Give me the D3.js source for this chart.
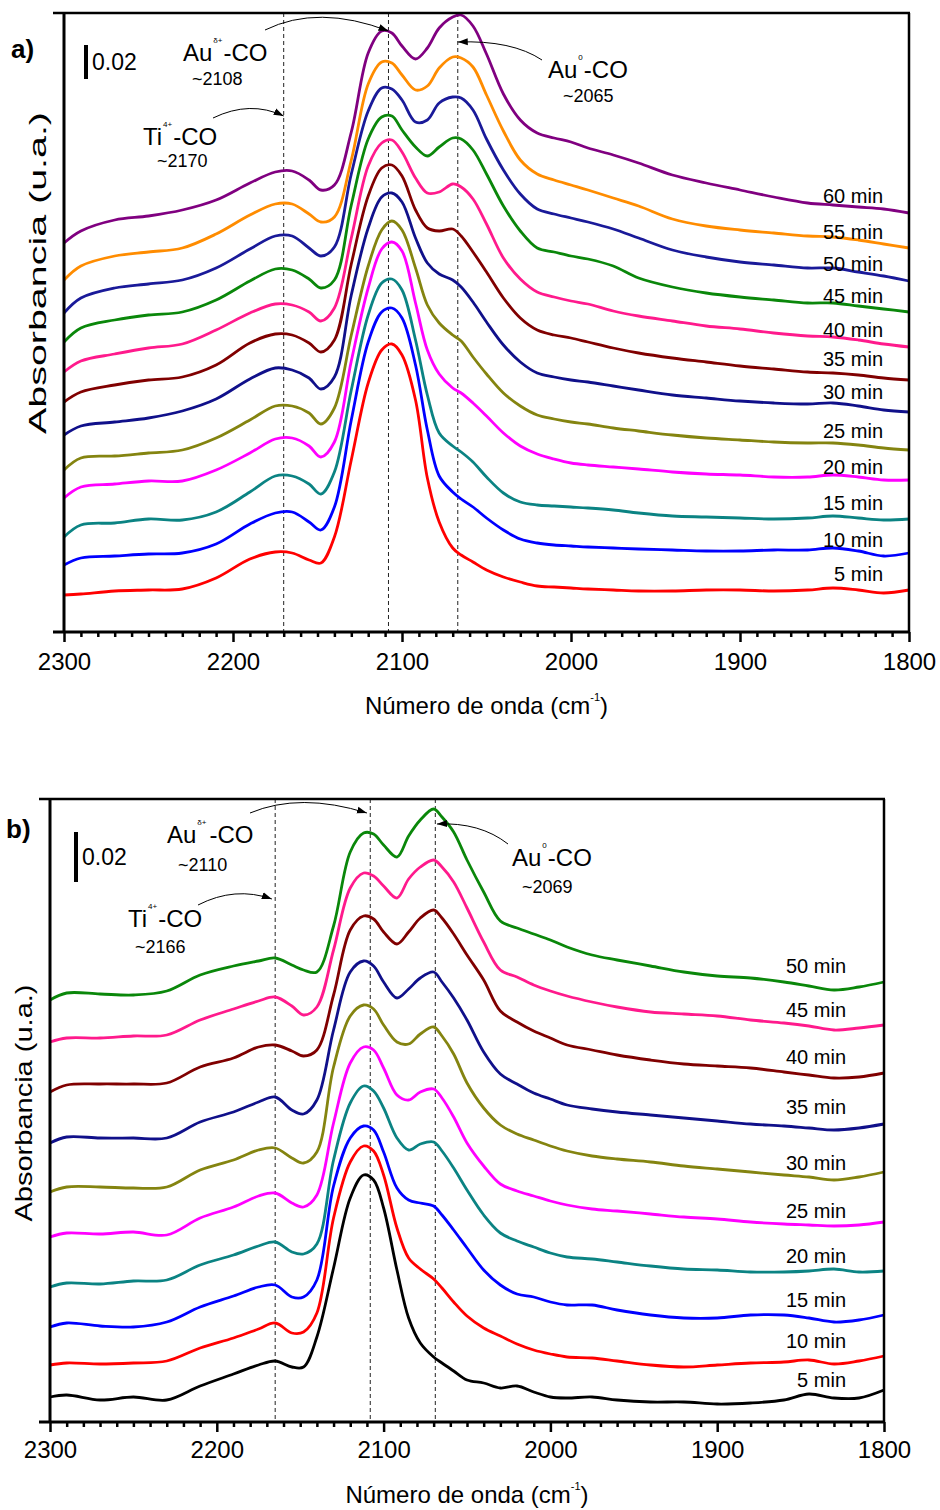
<!DOCTYPE html>
<html><head><meta charset="utf-8">
<script src="https://cdn.jsdelivr.net/npm/d3@7"></script>
<style>
body{margin:0;background:#fff}
svg{display:block}
text{font-family:"Liberation Sans",Arial,sans-serif;fill:#000}
</style>
</head><body>
<svg id="chart" width="940" height="1510"></svg>
<script>
// ---------- DATA (absorbance in arbitrary units, a.u.) ----------
const wavenumbers = [2300,2290,2270,2250,2230,2210,2190,2175,2165,2155,2148,2140,2130,2120,2112,2106,2100,2092,2085,2078,2070,2065,2058,2050,2040,2030,2020,2010,2000,1990,1975,1960,1940,1920,1900,1880,1860,1845,1830,1815,1800];
const xTicksMajor = [2300,2200,2100,2000,1900,1800];

// Panel a
const a5  = [37,38,41,42,43,54,73,80,79,72,69,95,172,249,282,288,277,232,154,110,84,77,70,62,55,50,46,45,44,43,42,41,41,42,42,41,42,44,42,39,42];
const a10 = [67,74,76,78,79,88,108,119,120,110,102,125,212,290,320,324,314,267,202,156,140,133,125,114,102,93,89,87,86,85,84,83,82,81,81,82,82,84,81,76,79];
const a15 = [95,107,109,113,112,120,140,156,156,148,138,160,242,317,349,353,342,292,237,199,186,180,170,155,139,130,127,126,125,124,122,119,116,115,114,113,114,116,114,112,113];
const a20 = [134,145,148,151,151,162,179,193,194,186,175,190,271,344,383,390,381,329,282,258,244,239,229,216,199,186,178,173,169,167,165,163,160,158,157,155,155,157,155,152,152];
const a25 = [162,174,176,179,182,194,212,226,226,219,208,224,297,366,402,411,402,364,327,309,297,291,275,258,239,226,217,213,210,208,204,201,197,194,192,190,189,189,187,184,182];
const a30 = [197,206,210,214,221,233,253,264,262,254,243,255,337,404,435,439,430,394,369,358,352,345,330,310,287,270,259,255,252,250,246,242,237,234,231,229,228,229,226,222,220];
const a35 = [230,240,247,252,255,267,289,298,297,289,280,292,368,436,464,467,456,422,404,401,403,396,380,360,334,314,302,297,294,290,284,279,274,270,266,263,260,259,257,254,252];
const a40 = [260,271,278,284,288,302,319,328,327,320,311,324,394,466,489,492,480,454,439,440,448,445,433,408,374,353,340,335,331,328,321,316,311,306,303,299,296,295,292,288,285];
const a45 = [290,304,312,317,320,332,351,363,362,353,344,352,427,493,515,516,502,485,476,485,494,493,482,458,426,401,384,380,376,373,366,354,345,339,335,332,329,329,326,323,320];
const a50 = [319,334,344,348,352,364,383,396,396,384,376,385,458,521,544,543,532,510,512,529,535,534,522,493,462,438,423,418,414,410,403,394,382,375,370,367,364,364,360,356,351];
const a55 = [352,366,376,380,384,398,417,428,428,418,410,415,472,548,570,569,557,542,546,564,575,574,565,537,501,472,458,452,447,442,434,426,413,406,402,399,396,395,392,388,384];
const a60 = [389,401,412,416,422,432,449,460,461,452,442,447,500,579,601,599,586,573,584,604,615,617,606,578,538,512,499,494,490,484,477,469,457,449,442,435,429,427,425,423,419];
const labelsA = ["5 min","10 min","15 min","20 min","25 min","30 min","35 min","40 min","45 min","50 min","55 min","60 min"];
const colorsA = ["#ff0000","#0000ff","#0b8383","#ff00ff","#848410","#10108a","#800000","#ff1a8c","#0a870a","#1a1a99","#ff8c00","#800080"];
const labelPosA = [51,85,122,158,194,233,266,295,329,361,393,429];
const peaksA = [2170,2108,2067];

// Panel b
const b5  = [25,27,22,25,22,36,48,57,61,55,55,85,154,224,247,242,214,152,104,79,65,59,51,42,39,34,36,30,25,24,25,22,20,20,18,19,22,28,24,24,32];
const b10 = [57,59,58,59,61,74,84,93,99,89,90,109,204,260,276,271,247,194,164,153,143,134,120,106,94,86,78,72,68,65,64,61,57,55,57,59,60,62,58,61,66];
const b15 = [95,99,96,95,100,115,126,135,137,125,125,142,236,284,296,292,270,234,222,219,216,207,192,174,152,137,128,125,120,117,117,112,107,104,104,107,107,104,100,102,107];
const b20 = [135,139,138,141,142,157,167,176,180,170,168,178,262,319,336,331,314,284,272,278,280,271,254,232,207,189,181,175,169,165,163,160,156,153,152,150,150,151,153,150,151];
const b25 = [185,189,188,190,187,204,215,226,229,219,215,227,299,359,375,372,354,327,322,330,333,324,305,279,256,238,231,226,221,217,213,211,208,205,203,200,198,197,196,197,200];
const b30 = [230,235,235,234,235,252,262,272,274,264,259,270,355,406,417,413,397,380,378,388,395,386,368,339,314,297,288,282,276,271,266,263,260,256,253,250,247,245,242,245,250];
const b35 = [279,285,284,284,284,300,310,320,325,312,308,322,392,450,461,456,440,424,433,444,450,440,424,402,370,348,338,329,323,317,313,310,307,304,301,298,296,294,292,294,298];
const b40 = [330,337,338,338,339,355,364,375,377,371,366,372,427,492,506,503,490,478,490,504,512,504,488,467,442,411,400,391,384,377,372,367,362,358,356,354,350,347,344,345,349];
const b45 = [380,384,384,386,387,402,413,421,425,416,407,415,472,534,549,546,536,524,543,555,562,555,540,514,480,452,445,437,431,426,420,415,410,408,406,402,399,396,392,394,397];
const b50 = [422,429,428,427,431,447,456,461,464,457,452,450,496,570,589,588,577,565,586,602,613,605,590,562,530,501,494,488,482,475,467,462,456,450,446,444,440,436,432,435,440];
const labelsB = ["5 min","10 min","15 min","20 min","25 min","30 min","35 min","40 min","45 min","50 min"];
const colorsB = ["#000000","#ff0000","#0000ff","#0b8383","#ff00ff","#848410","#10108a","#800000","#ff1a8c","#0a870a"];
const labelPosB = [35,74,115,159,204,252,308,358,405,449];
const peaksB = [2165,2108,2069];

// ---------- DRAW ----------
const svg = d3.select("#chart");
const defs = svg.append("defs");
defs.append("marker").attr("id","arrow").attr("viewBox","0 -4 10 8")
  .attr("refX",10).attr("refY",0).attr("markerWidth",10).attr("markerHeight",8)
  .attr("markerUnits","userSpaceOnUse").attr("orient","auto")
  .append("path").attr("d","M0,-3.5L10,0L0,3.5Z").attr("fill","#000");

function panel(cfg){
  const g = svg.append("g");
  const x = d3.scaleLinear().domain([2300,1800]).range([cfg.left,cfg.right]);
  const y = d3.scaleLinear().domain(cfg.yDomain).range([cfg.bottom,cfg.top]);

  // dashed reference lines
  g.selectAll("line.peak").data(cfg.peaks).join("line")
    .attr("x1",d=>x(d)).attr("x2",d=>x(d)).attr("y1",cfg.top).attr("y2",cfg.bottom)
    .attr("stroke","#222").attr("stroke-width",1).attr("stroke-dasharray","4,3");

  // spectra
  const line = d3.line().x((d,i)=>x(wavenumbers[i])).y(d=>y(d)).curve(d3.curveCatmullRom.alpha(0.5));
  g.selectAll("path.spec").data(cfg.series).join("path")
    .attr("fill","none").attr("stroke",(d,i)=>cfg.colors[i]).attr("stroke-width",2.8)
    .attr("stroke-linejoin","round").attr("d",d=>line(d));

  // series labels
  g.selectAll("text.lab").data(cfg.labels).join("text")
    .attr("x",cfg.labelX).attr("y",(d,i)=>y(cfg.labelPos[i]))
    .attr("text-anchor","end").attr("font-size",20).text(d=>d);

  // frame
  g.append("line").attr("x1",cfg.left-11).attr("x2",cfg.right+1).attr("y1",cfg.top).attr("y2",cfg.top)
    .attr("stroke","#000").attr("stroke-width",2.5);
  g.append("line").attr("x1",cfg.right).attr("x2",cfg.right).attr("y1",cfg.top).attr("y2",cfg.bottom)
    .attr("stroke","#000").attr("stroke-width",2.5);
  g.append("line").attr("x1",cfg.left).attr("x2",cfg.left).attr("y1",cfg.top).attr("y2",cfg.bottom)
    .attr("stroke","#000").attr("stroke-width",3);
  g.append("line").attr("x1",cfg.left-11).attr("x2",cfg.right+1).attr("y1",cfg.bottom).attr("y2",cfg.bottom)
    .attr("stroke","#000").attr("stroke-width",3);

  // x axis ticks
  const axis = d3.axisBottom(x).tickValues(d3.range(1800,2301,10)).tickSize(10)
    .tickFormat(d=> xTicksMajor.includes(d) ? d : "");
  const ax = g.append("g").attr("transform",`translate(0,${cfg.bottom})`).call(axis);
  ax.select(".domain").remove();
  ax.selectAll(".tick line").attr("stroke","#000").attr("stroke-width",2.5)
    .attr("y2",d=> xTicksMajor.includes(d) ? 10 : 5);
  ax.selectAll(".tick text").attr("font-size",24).attr("y",cfg.tickTextY)
    .attr("font-family","Liberation Sans, Arial, sans-serif").attr("fill","#000");

  // axis titles
  const xt = g.append("text").attr("x",(cfg.left+cfg.right)/2).attr("y",cfg.xTitleY)
    .attr("text-anchor","middle").attr("font-size",24);
  xt.append("tspan").text("Número de onda (cm");
  xt.append("tspan").attr("font-size",11).attr("dy",-13).text("-1");
  xt.append("tspan").attr("dy",13).text(")");
  g.append("text").attr("transform",`translate(${cfg.yTitleX},${cfg.yTitleY}) rotate(-90)`)
    .attr("text-anchor","middle").attr("font-size",24)
    .attr("textLength",cfg.yTitleLen).attr("lengthAdjust","spacingAndGlyphs")
    .text("Absorbancia (u.a.)");

  // panel letter
  g.append("text").attr("x",cfg.letterX).attr("y",cfg.letterY).attr("font-size",26)
    .attr("font-weight","bold").text(cfg.letter);

  // scale bar
  g.append("rect").attr("x",cfg.barX).attr("width",4).attr("y",cfg.barTop)
    .attr("height",y(0)-y(cfg.barLen)).attr("fill","#000");
  g.append("text").attr("x",cfg.barX+8).attr("y",cfg.barTop+(y(0)-y(cfg.barLen))/2+8)
    .attr("font-size",23).text("0.02");

  // annotations: base text, superscript (separate), "-CO", wavenumber, arrow
  cfg.annotations.forEach(a=>{
    const tb = g.append("text").attr("x",a.x).attr("y",a.y).attr("font-size",24).text(a.base);
    const bEnd = a.x + tb.node().getComputedTextLength();
    const ts = g.append("text").attr("x",bEnd+1).attr("y",a.y-18).attr("font-size",8).text(a.sup);
    const sEnd = bEnd + 1 + ts.node().getComputedTextLength();
    g.append("text").attr("x",sEnd+1+(a.gap||0)).attr("y",a.y).attr("font-size",24).text("-CO");
    g.append("text").attr("x",a.nx).attr("y",a.ny).attr("font-size",18).text("~"+a.num);
    const p = d3.path();
    p.moveTo(a.arrow[0],a.arrow[1]);
    p.quadraticCurveTo(a.arrow[2],a.arrow[3],x(a.target),a.arrow[4]);
    g.append("path").attr("d",p.toString()).attr("fill","none").attr("stroke","#000")
      .attr("stroke-width",1).attr("marker-end","url(#arrow)");
  });
}

panel({
  left:64,right:909,top:13,bottom:632,yDomain:[0,619],
  series:[a5,a10,a15,a20,a25,a30,a35,a40,a45,a50,a55,a60],
  colors:colorsA,labels:labelsA,labelPos:labelPosA,labelX:883,peaks:peaksA,
  tickTextY:21,xTitleY:714,yTitleX:46,yTitleY:273,yTitleLen:322,
  letter:"a)",letterX:11,letterY:58,barX:84,barTop:45,barLen:34,
  annotations:[
    {base:"Au",sup:"δ+",gap:0,x:183,y:61,num:"2108",nx:192,ny:85,target:2108,arrow:[265,30,318,4,31]},
    {base:"Ti",sup:"4+",gap:0,x:143,y:145,num:"2170",nx:157,ny:167,target:2170,arrow:[213,118,250,100,116]},
    {base:"Au",sup:"0",gap:0,x:548,y:78,num:"2065",nx:563,ny:102,target:2067,arrow:[542,60,512,40,42]}
  ]
});

panel({
  left:50,right:884,top:799,bottom:1422,yDomain:[0,623],
  series:[b5,b10,b15,b20,b25,b30,b35,b40,b45,b50],
  colors:colorsB,labels:labelsB,labelPos:labelPosB,labelX:846,peaks:peaksB,
  tickTextY:19,xTitleY:1503,yTitleX:32,yTitleY:1103,yTitleLen:237,
  letter:"b)",letterX:6,letterY:838,barX:74,barTop:832,barLen:50,
  annotations:[
    {base:"Au",sup:"δ+",gap:2,x:167,y:843,num:"2110",nx:178,ny:871,target:2110,arrow:[250,813,300,792,813]},
    {base:"Ti",sup:"4+",gap:0,x:128,y:927,num:"2166",nx:135,ny:953,target:2167,arrow:[198,905,235,886,899]},
    {base:"Au",sup:"0",gap:0,x:512,y:866,num:"2069",nx:522,ny:893,target:2068,arrow:[508,844,480,822,824]}
  ]
});
</script>
</body></html>
